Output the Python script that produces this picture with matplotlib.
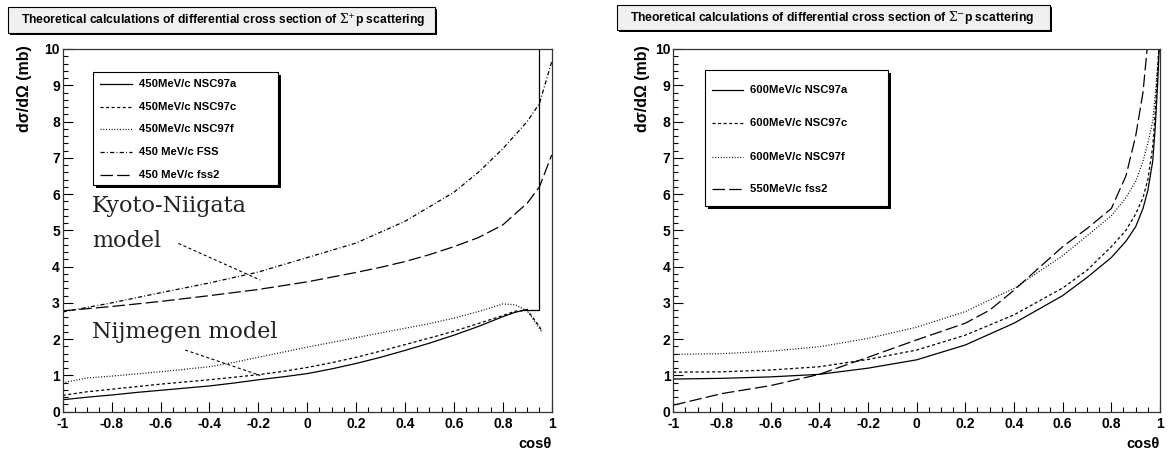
import numpy as np
import matplotlib
matplotlib.use("Agg")
import matplotlib.pyplot as plt
from matplotlib.patches import Rectangle
from matplotlib.lines import Line2D
from matplotlib.ticker import MultipleLocator, FuncFormatter

plt.rcParams['font.family'] = ['Liberation Sans', 'DejaVu Sans']
plt.rcParams['axes.unicode_minus'] = False
plt.rcParams['mathtext.fontset'] = 'dejavuserif'
plt.rcParams['lines.scale_dashes'] = False

W, H = 1168, 449

# Sigma+ p at 450 MeV/c
cos_plus = [-1, -0.9, -0.8, -0.7, -0.6, -0.5, -0.4, -0.3, -0.2, -0.1, 0, 0.1, 0.2,
            0.3, 0.4, 0.5, 0.6, 0.7, 0.8, 0.85, 0.9, 0.95]
nsc97a_plus = [0.33, 0.40, 0.46, 0.53, 0.59, 0.65, 0.71, 0.79, 0.88, 0.96, 1.05, 1.18, 1.33,
               1.50, 1.69, 1.89, 2.11, 2.35, 2.62, 2.74, 2.82, 2.80]
nsc97c_plus = [0.45, 0.55, 0.62, 0.69, 0.76, 0.82, 0.88, 0.95, 1.02, 1.11, 1.22, 1.35, 1.50,
               1.67, 1.85, 2.03, 2.22, 2.43, 2.65, 2.77, 2.80, 2.35]
nsc97f_plus = [0.80, 0.93, 0.98, 1.04, 1.10, 1.17, 1.24, 1.36, 1.50, 1.64, 1.78, 1.91, 2.04,
               2.17, 2.30, 2.43, 2.58, 2.76, 2.97, 2.95, 2.78, 2.30]
fss_cos = [-1, -0.8, -0.6, -0.4, -0.2, 0, 0.2, 0.3, 0.4, 0.5, 0.6, 0.7, 0.8, 0.9, 0.95, 1.0]
fss_plus = [2.75, 3.00, 3.28, 3.55, 3.85, 4.25, 4.65, 4.95, 5.25, 5.65, 6.05, 6.60, 7.25, 8.00, 8.50, 9.65]
fss2_plus = [2.78, 2.90, 3.04, 3.20, 3.37, 3.58, 3.84, 3.98, 4.14, 4.33, 4.55, 4.80, 5.15, 5.75, 6.20, 7.08]
# closing edge of the NSC97a graph
edge_cos = [0.88, 0.95, 0.95]
edge_val = [2.80, 2.80, 10.0]

# Sigma- p at 600 / 550 MeV/c
cos_minus = [-1, -0.8, -0.6, -0.4, -0.2, 0, 0.2, 0.4, 0.6, 0.7, 0.8, 0.86, 0.9, 0.93,
             0.95, 0.97, 0.98, 0.99, 1.0]
nsc97a_minus = [0.90, 0.92, 0.96, 1.03, 1.20, 1.43, 1.84, 2.44, 3.20, 3.70, 4.25, 4.70, 5.10,
                5.60, 6.10, 6.90, 7.80, 9.00, 10.5]
nsc97c_minus = [1.09, 1.10, 1.15, 1.24, 1.44, 1.70, 2.11, 2.67, 3.41, 3.90, 4.55, 5.00, 5.45,
                5.90, 6.40, 7.30, 8.20, 9.40, 10.5]
nsc97f_minus = [1.58, 1.60, 1.67, 1.79, 2.02, 2.33, 2.76, 3.40, 4.30, 4.85, 5.40, 5.90, 6.35,
                6.90, 7.40, 8.00, 8.70, 9.50, 10.5]
fss2_cos = [-1, -0.8, -0.6, -0.4, -0.2, 0, 0.2, 0.3, 0.4, 0.5, 0.6, 0.7, 0.8, 0.86, 0.9, 0.93, 0.95]
fss2_minus = [0.18, 0.50, 0.72, 1.03, 1.50, 1.98, 2.44, 2.80, 3.35, 3.95, 4.55, 5.05, 5.60,
              6.50, 7.60, 8.80, 10.2]

labels_plus = ['450MeV/c NSC97a', '450MeV/c NSC97c', '450MeV/c NSC97f',
               '450 MeV/c FSS', '450 MeV/c fss2']
labels_minus = ['600MeV/c NSC97a', '600MeV/c NSC97c', '600MeV/c NSC97f', '550MeV/c fss2']

# ROOT-like line styles (dash lengths in points)
SOLID = '-'
DASHED = (0, (2.2, 1.8))
DOTTED = (0, (0.7, 1.3))
DASHDOT = (0, (3.0, 1.6, 0.7, 1.6))
LONGDASH = (0, (9.0, 3.0))
LW = 0.9


def fx(x):
    return x / W


def fy(y):
    return 1 - y / H


def setup_axes(ax):
    ax.set_xlim(-1, 1)
    ax.set_ylim(0, 10)
    ax.xaxis.set_major_locator(MultipleLocator(0.2))
    ax.xaxis.set_minor_locator(MultipleLocator(0.05))
    ax.yaxis.set_major_locator(MultipleLocator(1))
    ax.yaxis.set_minor_locator(MultipleLocator(0.2))
    ax.xaxis.set_major_formatter(FuncFormatter(lambda v, p: '%g' % round(v, 2)))
    ax.tick_params(which='both', direction='in', top=False, right=False, width=0.8)
    ax.tick_params(which='major', length=7.5)
    ax.tick_params(which='minor', length=3.8)
    ax.tick_params(axis='x', pad=4)
    ax.tick_params(axis='y', pad=2)
    for lab in ax.get_xticklabels() + ax.get_yticklabels():
        lab.set_fontweight('bold')
        lab.set_fontsize(10)
    # lift the "0" a little so it clears the "-1" below it
    ax.get_yticklabels()[0].set_verticalalignment('bottom')
    for sp in ax.spines.values():
        sp.set_linewidth(0.9)
        sp.set_color('#333333')


def title_box(x0, y0, x1, y1, text):
    fig.add_artist(Rectangle((fx(x0 + 2), fy(y1 + 2)), fx(x1 - x0), (y1 - y0) / H,
                             facecolor='black', edgecolor='none', transform=fig.transFigure))
    fig.add_artist(Rectangle((fx(x0), fy(y1)), fx(x1 - x0), (y1 - y0) / H,
                             facecolor='#f0f0f0', edgecolor='black', lw=0.8,
                             transform=fig.transFigure))
    fig.text(fx(x0 + 13), fy((y0 + y1) / 2), text, fontsize=8.7, fontweight='bold',
             va='center', ha='left')


def legend_box(x0, y0, x1, y1, rows, styles, labels, sx0, sx1, tx):
    fig.add_artist(Rectangle((fx(x0 + 3), fy(y1 + 3)), fx(x1 - x0), (y1 - y0) / H,
                             facecolor='black', edgecolor='none', transform=fig.transFigure,
                             zorder=5))
    fig.add_artist(Rectangle((fx(x0), fy(y1)), fx(x1 - x0), (y1 - y0) / H,
                             facecolor='white', edgecolor='black', lw=0.8,
                             transform=fig.transFigure, zorder=6))
    for r, ls, lab in zip(rows, styles, labels):
        fig.add_artist(Line2D([fx(sx0), fx(sx1)], [fy(r), fy(r)], color='black', lw=LW,
                              linestyle=ls, transform=fig.transFigure, zorder=7))
        fig.text(fx(tx), fy(r), lab, fontsize=8.1, fontweight='bold', va='center',
                 ha='left', zorder=7)


fig = plt.figure(figsize=(W / 100, H / 100), dpi=100)
fig.patch.set_facecolor('white')

axL = fig.add_axes([fx(62.7), 1 - 411.7 / H, 489 / W, 362.7 / H])
axR = fig.add_axes([fx(673.3), 1 - 411.7 / H, 486.7 / W, 362.7 / H])
setup_axes(axL)
setup_axes(axR)

# left panel: Sigma+ p
axL.plot(cos_plus[:-1], nsc97a_plus[:-1], color='black', lw=LW, linestyle=SOLID)
axL.plot(edge_cos, edge_val, color='black', lw=LW, linestyle=SOLID)
axL.plot(cos_plus + [0.96], nsc97c_plus + [2.2], color='black', lw=LW, linestyle=DASHED)
axL.plot(cos_plus + [0.96], nsc97f_plus + [2.2], color='black', lw=LW, linestyle=DOTTED)
axL.plot(fss_cos, fss_plus, color='black', lw=LW, linestyle=DASHDOT)
axL.plot(fss_cos, fss2_plus, color='black', lw=LW, linestyle=LONGDASH)

# model annotations
axL.text(-0.88, 5.51, 'Kyoto-Niigata', family='DejaVu Serif', fontsize=16, va='baseline',
         color='#222222')
axL.text(-0.88, 4.54, 'model', family='DejaVu Serif', fontsize=16, va='baseline',
         color='#222222')
axL.text(-0.88, 2.02, 'Nijmegen model', family='DejaVu Serif', fontsize=16, va='baseline',
         color='#222222')
kyoto_ptr = ([-0.527, -0.192], [4.64, 3.63])
nijm_ptr = ([-0.499, -0.192], [1.70, 1.00])
axL.plot(*kyoto_ptr, color='black', lw=0.8, linestyle=DASHED)
axL.plot(*nijm_ptr, color='black', lw=0.8, linestyle=DASHED)

# right panel: Sigma- p
axR.plot(cos_minus, nsc97a_minus, color='black', lw=LW, linestyle=SOLID)
axR.plot(cos_minus, nsc97c_minus, color='black', lw=LW, linestyle=DASHED)
axR.plot(cos_minus, nsc97f_minus, color='black', lw=LW, linestyle=DOTTED)
axR.plot(fss2_cos, fss2_minus, color='black', lw=LW, linestyle=LONGDASH)

# axis titles
for xl in (25, 643):
    fig.text(fx(xl), fy(45), 'dσ/dΩ (mb)', rotation=90, fontsize=11.5, fontweight='bold',
             ha='center', va='top')
for xr in (551.7, 1160):
    fig.text(fx(xr), fy(437), 'cosθ', fontsize=10.5, fontweight='bold', ha='right', va='top')

title_box(8, 7, 435, 33,
          r'Theoretical calculations of differential cross section of $\Sigma^{+}$p scattering')
title_box(617, 5, 1050, 30,
          r'Theoretical calculations of differential cross section of $\Sigma^{-}$p scattering')

legend_box(93, 72, 278, 185, [84, 107, 129, 152, 175],
           [SOLID, DASHED, DOTTED, DASHDOT, LONGDASH], labels_plus, 100, 132, 139)
legend_box(705, 70, 888, 206, [90, 123, 157, 189],
           [SOLID, DASHED, DOTTED, LONGDASH], labels_minus, 712, 743, 750)

fig.savefig('out.png', dpi=100)
